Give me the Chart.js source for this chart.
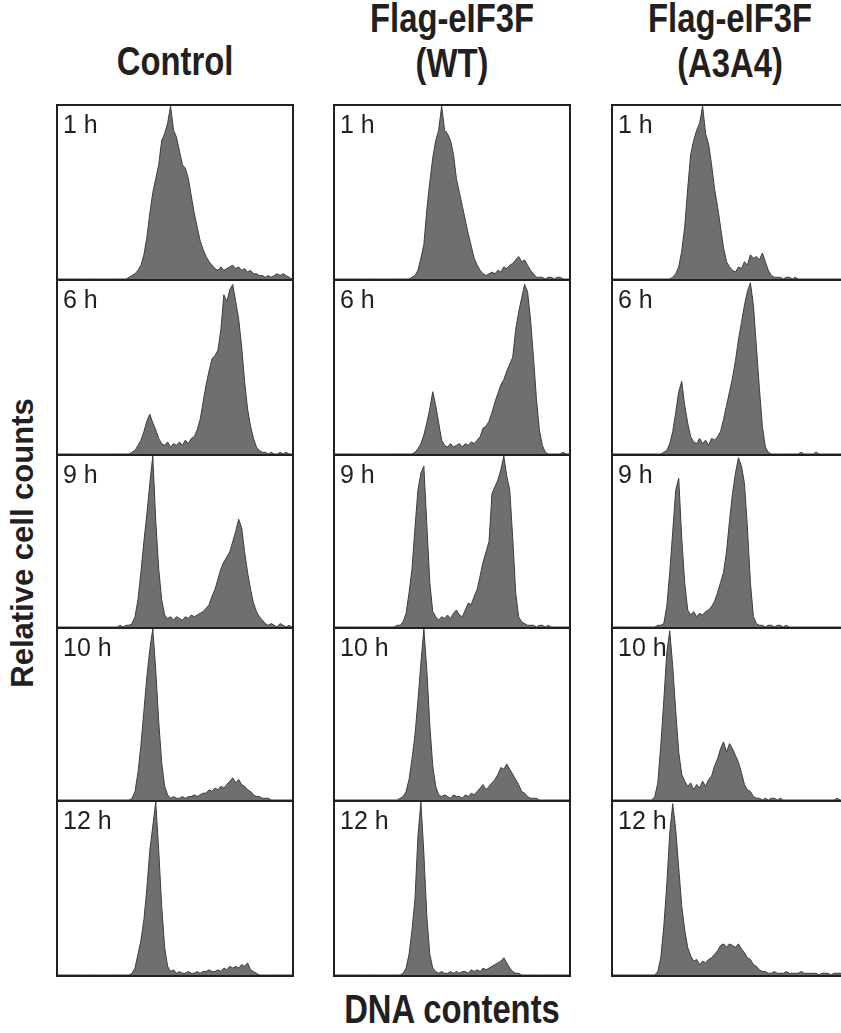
<!DOCTYPE html>
<html>
<head>
<meta charset="utf-8">
<title>DNA content histograms</title>
<script src="https://cdn.jsdelivr.net/npm/chart.js@4.4.1/dist/chart.umd.min.js"></script>
<style>
  html, body {
    margin: 0;
    overflow: hidden;
  }
  body {
    width: 841px;
    height: 1033px;
    position: relative;
    background: #fff;
    color: #231f20;
    font-family: 'Liberation Sans', Arial, sans-serif;
  }
  .title {
    position: absolute;
    width: 300px;
    text-align: center;
    font: bold 40px 'Liberation Sans', Arial, sans-serif;
    line-height: 45px;
    white-space: pre;
    transform: scaleX(0.82);
  }
  .ytitle {
    position: absolute;
    left: 23px;
    top: 543px;
    font: bold 31px 'Liberation Sans', Arial, sans-serif;
    white-space: nowrap;
    transform: translate(-50%, -50%) rotate(-90deg);
  }
  .panel {
    position: absolute;
    box-sizing: border-box;
    border: 2px solid #231f20;
    background: #fff;
  }
  .panel .box {
    position: absolute;
    left: 0; top: 0; right: 0; bottom: 0;
  }
  .panel .tag {
    position: absolute;
    left: 5px;
    top: 6px;
    font-size: 25px;
    line-height: 25px;
    z-index: 2;
  }
</style>
</head>
<body>
<div class="ytitle">Relative cell counts</div>
<div class="title" style="left:25px; top:39px;">Control</div>
<div class="title" style="left:302px; top:-4px;">Flag-eIF3F
(WT)</div>
<div class="title" style="left:580px; top:-4px;">Flag-eIF3F
(A3A4)</div>
<div class="title" style="left:302px; top:987px;">DNA contents</div>
<div id="grid"></div>

<script>
// DNA content channels (x axis)
const channels = [
  0, 1, 2, 3, 4, 5, 6, 7, 8, 9,
  10, 11, 12, 13, 14, 15, 16, 17, 18, 19,
  20, 21, 22, 23, 24, 25, 26, 27, 28, 29,
  30, 31, 32, 33, 34, 35, 36, 37, 38, 39,
  40, 41, 42, 43, 44, 45, 46, 47, 48, 49,
  50, 51, 52, 53, 54, 55, 56, 57, 58, 59,
  60, 61, 62, 63, 64, 65, 66, 67, 68, 69,
  70, 71, 72, 73, 74, 75, 76, 77, 78, 79
];

const timePoints = ['1 h', '6 h', '9 h', '10 h', '12 h'];

// Control
const control1h = [
  0,0,0,0,0,0,0,0,0,0, 0,0,0,0,0,0,0,0,0,0,
  0,0,0,0,1,2,3,5,8,14, 24,38,50,58,66,80,84,90,100,86,
  82,74,66,64,58,48,38,30,22,17, 13,10,8,6,5,7,5,6,7,8,
  6,7,5,6,4,5,3,3,2,2, 1,2,1,2,3,2,3,2,1,0
];
const control6h = [
  0,0,0,0,0,0,0,0,0,0, 0,0,0,0,0,0,0,0,0,0,
  0,0,0,0,0,1,2,5,8,13, 19,23,18,14,9,6,5,7,4,6,
  5,7,5,8,6,9,10,14,20,30, 40,48,55,57,60,72,92,88,95,98,
  88,78,62,42,26,16,9,4,2,1, 1,0,1,0,0,1,0,1,0,0
];
const control9h = [
  0,0,0,0,0,0,0,0,0,0, 0,0,0,0,0,0,0,0,0,0,
  0,1,0,1,1,2,6,16,32,50, 66,84,100,62,34,16,7,5,6,4,
  6,5,4,6,5,7,6,7,8,9, 11,13,18,22,28,34,38,41,44,50,
  56,63,58,44,32,22,14,9,6,4, 2,1,2,1,0,2,1,0,1,0
];
const control10h = [
  0,0,0,0,0,0,0,0,0,0, 0,0,0,0,0,0,0,0,0,0,
  0,0,0,0,0,1,5,16,32,52, 72,88,100,76,46,22,8,3,1,2,
  1,1,2,1,2,2,3,2,3,4, 4,6,5,7,6,8,7,9,11,13,
  10,12,9,8,6,5,3,2,2,1, 1,1,0,0,0,0,0,0,0,0
];
const control12h = [
  0,0,0,0,0,0,0,0,0,0, 0,0,0,0,0,0,0,0,0,0,
  0,0,0,0,0,1,4,12,20,32, 50,72,86,100,72,40,16,5,2,3,
  1,2,1,1,2,1,1,2,1,2, 2,3,2,2,3,2,4,3,5,4,
  5,4,6,5,7,3,2,1,0,0, 0,0,0,0,0,0,0,0,0,0
];

// Flag-eIF3F (WT)
const wt1h = [
  0,0,0,0,0,0,0,0,0,0, 0,0,0,0,0,0,0,0,0,0,
  0,0,0,0,0,0,1,2,5,12, 20,40,56,70,80,86,100,86,84,80,
  72,58,50,42,34,26,19,12,8,5, 3,2,3,4,3,5,4,7,6,8,
  9,11,13,10,11,8,5,3,1,1, 1,0,1,1,0,1,1,0,0,0
];
const wt6h = [
  0,0,0,0,0,0,0,0,0,0, 0,0,0,0,0,0,0,0,0,0,
  0,0,0,0,0,0,0,1,3,6, 11,18,26,36,28,18,8,5,4,6,
  4,5,6,4,6,5,7,6,8,10, 15,16,19,24,30,35,40,43,48,52,
  56,72,82,90,98,94,78,56,32,14, 5,1,0,0,0,0,0,1,0,0
];
const wt9h = [
  0,0,0,0,0,0,0,0,0,0, 0,0,0,0,0,0,0,0,0,0,
  0,1,1,3,8,20,34,58,80,90, 94,60,26,9,6,4,6,5,7,5,
  8,10,7,6,10,14,13,18,22,30, 38,44,50,78,82,86,92,100,88,80,
  52,20,6,3,2,1,1,1,0,1, 1,0,1,0,0,0,0,0,0,0
];
const wt10h = [
  0,0,0,0,0,0,0,0,0,0, 0,0,0,0,0,0,0,0,0,0,
  0,0,1,2,5,12,24,38,58,80, 100,76,44,20,8,3,2,3,2,1,
  3,2,2,1,3,2,4,3,5,7, 9,6,8,10,12,15,19,18,21,18,
  15,12,9,5,4,2,1,1,1,0, 0,0,0,0,0,0,0,0,0,0
];
const wt12h = [
  0,0,0,0,0,0,0,0,0,0, 0,0,0,0,0,0,0,0,0,0,
  0,0,0,1,4,12,26,44,80,100, 70,34,12,4,2,1,2,1,1,2,
  1,2,1,2,2,1,3,2,3,2, 4,3,4,5,6,7,8,10,7,4,
  2,1,1,0,0,0,0,0,0,0, 0,0,0,0,0,0,0,0,0,0
];

// Flag-eIF3F (A3A4)
const a3a41h = [
  0,0,0,0,0,0,0,0,0,0, 0,0,0,0,0,0,0,0,0,0,
  1,3,7,16,30,52,72,80,86,90, 100,84,78,66,52,42,30,18,10,7,
  5,4,7,6,10,8,14,12,13,11, 15,10,5,2,1,1,1,0,1,1,
  0,1,0,0,0,0,0,0,0,0, 0,0,0,0,0,0,0,0,0,0
];
const a3a46h = [
  0,0,0,0,0,0,0,0,0,0, 0,0,0,0,0,0,0,1,2,6,
  13,24,36,42,28,18,10,7,6,9, 6,8,5,9,8,10,13,20,28,36,
  44,54,66,76,86,94,99,86,62,38, 16,4,1,0,0,0,0,0,0,0,
  0,0,0,1,0,0,0,0,1,0, 0,0,0,0,0,0,0,0,0,0
];
const a3a49h = [
  0,0,0,0,0,0,0,0,0,0, 0,0,0,0,0,1,1,2,12,32,
  56,80,87,52,26,10,7,9,6,8, 7,9,10,12,15,20,26,32,44,62,
  78,90,99,94,84,58,26,6,2,1, 1,0,1,1,0,1,1,0,1,0,
  0,0,0,0,0,0,0,0,0,0, 0,0,0,0,0,0,0,0,0,0
];
const a3a410h = [
  0,0,0,0,0,0,0,0,0,0, 0,0,0,0,2,10,32,58,86,99,
  78,52,28,15,11,8,10,6,9,7, 11,8,12,14,20,24,30,34,28,33,
  30,26,22,16,9,6,5,2,1,1, 0,1,0,1,1,0,1,0,0,0,
  0,0,0,0,0,0,0,0,0,0, 0,0,0,0,0,1,0,0,0,0
];
const a3a412h = [
  0,0,0,0,0,0,0,0,0,0, 0,0,0,0,0,2,10,28,52,82,
  99,84,62,40,26,16,11,8,9,6, 8,7,9,10,12,14,17,18,16,18,
  17,16,18,15,13,10,9,6,5,3, 2,2,1,1,2,1,1,1,2,1,
  1,1,1,2,1,1,1,1,1,0, 1,1,1,0,1,1,1,1,0,0
];

const columns = [
  [control1h, control6h, control9h, control10h, control12h],
  [wt1h, wt6h, wt9h, wt10h, wt12h],
  [a3a41h, a3a46h, a3a49h, a3a410h, a3a412h]
];

// layout
const colLeft = [56, 333, 611];
const colWidth = 238;
const rowLines = [105, 280, 455, 628, 801, 976];

const grid = document.getElementById('grid');

columns.forEach((series, c) => {
  series.forEach((values, r) => {
    const panel = document.createElement('div');
    panel.className = 'panel';
    panel.style.left = colLeft[c] + 'px';
    panel.style.top = (rowLines[r] - 1) + 'px';
    panel.style.width = colWidth + 'px';
    panel.style.height = (rowLines[r + 1] - rowLines[r] + 2) + 'px';
    // last column runs off the right edge of the figure
    if (c === 2) panel.style.borderRight = 'none';

    const tag = document.createElement('div');
    tag.className = 'tag';
    tag.textContent = timePoints[r];
    panel.appendChild(tag);

    const box = document.createElement('div');
    box.className = 'box';
    const canvas = document.createElement('canvas');
    box.appendChild(canvas);
    panel.appendChild(box);
    grid.appendChild(panel);

    new Chart(canvas, {
      type: 'line',
      data: {
        labels: channels,
        datasets: [{
          data: values,
          fill: 'origin',
          backgroundColor: '#6e6f71',
          borderColor: '#3d3d3f',
          borderWidth: 1,
          pointRadius: 0,
          tension: 0
        }]
      },
      options: {
        animation: false,
        responsive: true,
        maintainAspectRatio: false,
        events: [],
        layout: { padding: 0 },
        plugins: {
          legend: { display: false },
          tooltip: { enabled: false }
        },
        scales: {
          x: { display: false },
          y: { display: false, min: 0, max: 100 }
        }
      }
    });
  });
});
</script>
</body>
</html>
